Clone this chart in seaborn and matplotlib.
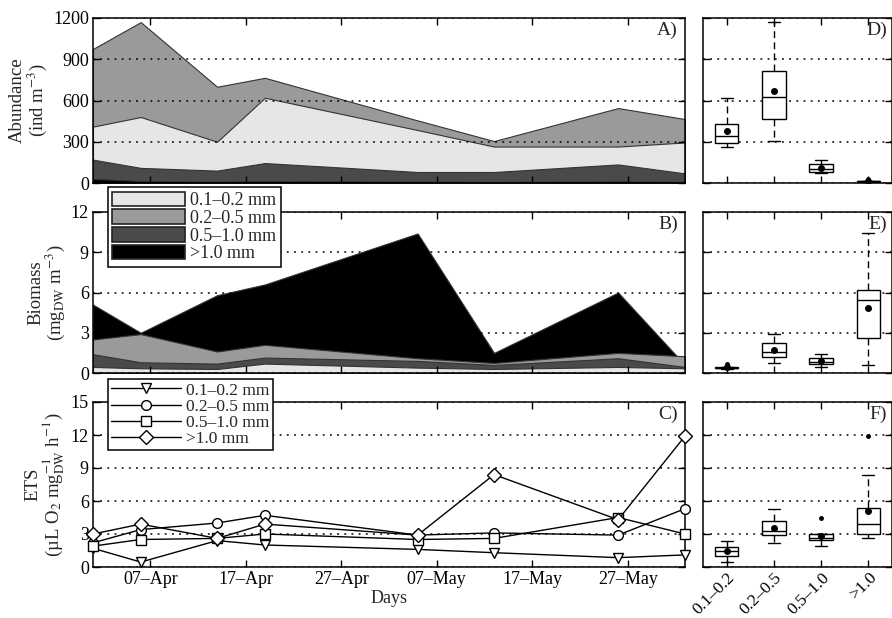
import numpy as np
import pandas as pd
import matplotlib
matplotlib.use('Agg')
import matplotlib.pyplot as plt
import matplotlib.dates as mdates
from matplotlib.patches import Patch
from matplotlib.lines import Line2D
import seaborn as sns

# size classes
sizes = ['0.1–0.2 mm', '0.2–0.5 mm', '0.5–1.0 mm', '>1.0 mm']
short = ['0.1–0.2', '0.2–0.5', '0.5–1.0', '>1.0']
dates = pd.to_datetime(['2013-04-01', '2013-04-06', '2013-04-14', '2013-04-19',
                        '2013-05-05', '2013-05-13', '2013-05-26', '2013-06-02'])

# abundance (ind m-3)
abund_01_02 = [410, 480, 300, 620, 385, 265, 265, 295]
abund_02_05 = [975, 1170, 700, 765, 455, 305, 545, 465]
abund_05_10 = [170, 110, 90, 145, 80, 80, 135, 70]
abund_gt10 = [30, 15, 10, 15, 10, 8, 12, 8]

# biomass (mg DW m-3)
biom_01_02 = [0.45, 0.35, 0.3, 0.7, 0.4, 0.3, 0.45, 0.35]
biom_02_05 = [2.5, 2.9, 1.6, 2.1, 1.1, 0.75, 1.5, 1.25]
biom_05_10 = [1.4, 0.8, 0.7, 1.15, 0.9, 0.6, 1.1, 0.45]
biom_gt10 = [5.1, 3.0, 5.8, 6.6, 10.4, 1.5, 6.0, 0.6]

# ETS activity
ets_01_02 = [1.7, 0.45, 2.4, 2.0, 1.6, 1.3, 0.85, 1.1]
ets_02_05 = [2.2, 3.4, 4.0, 4.7, 2.9, 3.1, 2.9, 5.3]
ets_05_10 = [1.9, 2.5, 2.6, 3.0, 2.5, 2.6, 4.5, 3.0]
ets_gt10 = [3.0, 3.9, 2.6, 3.9, 2.9, 8.4, 4.3, 11.9]

abund = [abund_01_02, abund_02_05, abund_05_10, abund_gt10]
biom = [biom_01_02, biom_02_05, biom_05_10, biom_gt10]
ets = [ets_01_02, ets_02_05, ets_05_10, ets_gt10]

fills = ['#e6e6e6', '#9a9a9a', '#4a4a4a', '#000000']
markers = ['v', 'o', 's', 'D']
msizes = [7.5, 7, 6.5, 7]

sns.set_theme(style='ticks')
plt.rcParams['font.family'] = ['Liberation Serif', 'DejaVu Serif']
plt.rcParams['mathtext.fontset'] = 'stix'
plt.rcParams['axes.linewidth'] = 1.1
plt.rcParams['axes.edgecolor'] = 'black'

FS = 13
grid_kw = dict(color='black', linestyle=(0, (1.2, 3.5)), linewidth=1.1)

fig = plt.figure(figsize=(8.92, 6.18), dpi=100)
W, H = 892.0, 618.0


def px_axes(x0, y0, x1, y1):
    return fig.add_axes([x0 / W, 1 - y1 / H, (x1 - x0) / W, (y1 - y0) / H])


rows = [(18, 183), (212, 373), (402, 567)]
left_axes = [px_axes(93, a, 685, b) for a, b in rows]
right_axes = [px_axes(703, a, 892, b) for a, b in rows]

limits = [(0, 1200, 300), (0, 12, 3), (0, 15, 3)]
ylabels = ['Abundance\n(ind m$^{-3}$)',
           'Biomass\n(mg$_{\\mathrm{DW}}$ m$^{-3}$)',
           'ETS\n(µL O$_2$ mg$_{\\mathrm{DW}}^{-1}$ h$^{-1}$)']

# A) and B): overlapping areas, largest drawn first
for ax, data, order in [(left_axes[0], abund, [1, 0, 2, 3]),
                        (left_axes[1], biom, [3, 1, 2, 0])]:
    for i in order:
        ax.fill_between(dates, 0, data[i], facecolor=fills[i],
                        edgecolor='#333333', linewidth=0.8, zorder=1)

# C) lines
axc = left_axes[2]
for i in range(4):
    sns.lineplot(x=dates, y=ets[i], ax=axc, color='black', linewidth=1,
                 marker=markers[i], markersize=msizes[i],
                 markerfacecolor='white', markeredgecolor='black',
                 markeredgewidth=1, clip_on=False, zorder=3)

for ax, (lo, hi, st), lab in zip(left_axes, limits, ylabels):
    ax.set_xlim(pd.Timestamp('2013-04-01'), pd.Timestamp('2013-06-02'))
    ax.set_ylim(lo, hi)
    ax.set_yticks(np.arange(lo, hi + st / 2, st))
    ax.yaxis.grid(True, **grid_kw)
    ax.set_axisbelow(False)
    ax.xaxis.set_major_locator(mdates.DayLocator(bymonthday=[7, 17, 27]))
    ax.xaxis.set_major_formatter(mdates.DateFormatter('%d–%b'))
    ax.tick_params(direction='in', top=True, right=True, length=5,
                   width=1, labelsize=FS, colors='black', pad=3)
    ax.set_ylabel(lab, fontsize=FS + 0.5, linespacing=0.95, labelpad=3)
    ax.set_xlabel('')
for ax in left_axes[:2]:
    ax.tick_params(labelbottom=False)
axc.set_xlabel('Days', fontsize=FS, labelpad=1)

# legends
h_area = [Patch(facecolor=fills[i], edgecolor='#222222', linewidth=1.2, label=sizes[i])
          for i in range(4)]
left_axes[1].legend(handles=h_area, loc='upper left', bbox_to_anchor=(0.025, 1.155),
                    frameon=True, fancybox=False, edgecolor='black', framealpha=1,
                    fontsize=FS, handlelength=4.0, handleheight=0.85,
                    labelspacing=0.02, borderpad=0.25, handletextpad=0.3,
                    borderaxespad=0).get_frame().set_linewidth(1.1)
h_line = [Line2D([], [], color='black', linewidth=1, marker=markers[i],
                 markersize=msizes[i], markerfacecolor='white', markeredgecolor='black',
                 label=sizes[i]) for i in range(4)]
axc.legend(handles=h_line, loc='upper left', bbox_to_anchor=(0.025, 1.14),
           frameon=True, fancybox=False, edgecolor='black', framealpha=1,
           fontsize=FS - 0.5, handlelength=4.0, labelspacing=0.0, borderpad=0.2,
           handletextpad=0.3, borderaxespad=0).get_frame().set_linewidth(1.1)

# D), E), F): box plots of each size class over the sampling dates
for ax, data, (lo, hi, st) in zip(right_axes, [abund, biom, ets], limits):
    df = pd.DataFrame({'size': np.repeat(short, len(dates)),
                       'value': np.concatenate(data)})
    sns.boxplot(data=df, x='size', y='value', order=short, ax=ax, width=0.5,
                color='white', linecolor='black', linewidth=1, whis=1.5,
                showmeans=True,
                meanprops=dict(marker='o', markersize=4, markerfacecolor='black',
                               markeredgecolor='black'),
                flierprops=dict(marker='o', markersize=2.5, markerfacecolor='black',
                                markeredgecolor='black'),
                whiskerprops=dict(linestyle=(0, (5, 3))))
    ax.set_xlim(-0.5, 3.5)
    ax.set_ylim(lo, hi)
    ax.set_yticks(np.arange(lo, hi + st / 2, st))
    ax.yaxis.grid(True, **grid_kw)
    ax.set_axisbelow(True)
    ax.tick_params(direction='in', top=True, right=True, length=5, width=1,
                   labelleft=False, labelbottom=False, colors='black', pad=2)
    ax.set_xlabel('')
    ax.set_ylabel('')
right_axes[2].tick_params(labelbottom=True, labelsize=FS - 0.5)
plt.setp(right_axes[2].get_xticklabels(), rotation=45, ha='right', va='top',
         rotation_mode='anchor')

for ax, letter in zip(left_axes + right_axes, ['A)', 'B)', 'C)', 'D)', 'E)', 'F)']):
    x = 0.988 if ax in left_axes else 0.975
    ax.text(x, 0.975, letter, transform=ax.transAxes, ha='right', va='top',
            fontsize=FS + 1, zorder=5)

fig.savefig('out.png', dpi=100)
